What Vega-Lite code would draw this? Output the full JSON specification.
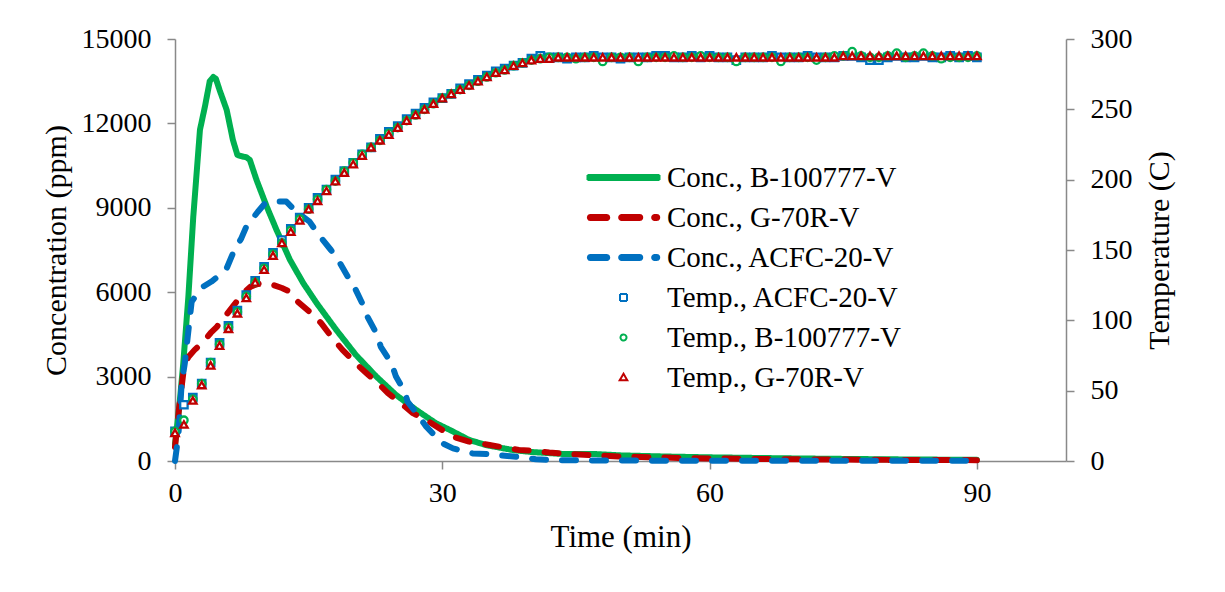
{
  "$schema": "https://vega.github.io/schema/vega-lite/v6.json",
  "width": 891,
  "height": 422,
  "autosize": {"type": "none"},
  "padding": {"left": 175, "top": 39, "right": 159, "bottom": 131},
  "background": "white",
  "config": {
    "view": {"stroke": null},
    "axis": {"labelFont": "Liberation Serif", "titleFont": "Liberation Serif", "labelFontSize": 28, "titleFontSize": 30, "labelColor": "#000000", "titleColor": "#000000", "titleFontWeight": "normal", "domainColor": "#898989", "tickColor": "#898989", "domainWidth": 1.5, "tickWidth": 1.5, "tickSize": 8, "grid": false, "labelFlush": false, "labelOverlap": false},
    "legend": {"labelFont": "Liberation Serif", "labelFontSize": 29, "labelColor": "#000000", "labelLimit": 500}
  },
  "datasets": {
    "conc": [
      {"series": "cB", "time": 0, "ppm": 600},
      {"series": "cB", "time": 0.5, "ppm": 2000},
      {"series": "cB", "time": 0.93, "ppm": 3480},
      {"series": "cB", "time": 1.5, "ppm": 5840},
      {"series": "cB", "time": 2.05, "ppm": 8680},
      {"series": "cB", "time": 2.8, "ppm": 11770},
      {"series": "cB", "time": 3.36, "ppm": 12600},
      {"series": "cB", "time": 3.9, "ppm": 13500},
      {"series": "cB", "time": 4.3, "ppm": 13650},
      {"series": "cB", "time": 4.6, "ppm": 13580},
      {"series": "cB", "time": 5.0, "ppm": 13190},
      {"series": "cB", "time": 5.8, "ppm": 12480},
      {"series": "cB", "time": 6.5, "ppm": 11410},
      {"series": "cB", "time": 7.0, "ppm": 10880},
      {"series": "cB", "time": 7.6, "ppm": 10820},
      {"series": "cB", "time": 8.0, "ppm": 10800},
      {"series": "cB", "time": 8.4, "ppm": 10700},
      {"series": "cB", "time": 9.15, "ppm": 9990},
      {"series": "cB", "time": 10.3, "ppm": 9040},
      {"series": "cB", "time": 11.4, "ppm": 8210},
      {"series": "cB", "time": 12.9, "ppm": 7150},
      {"series": "cB", "time": 14.4, "ppm": 6320},
      {"series": "cB", "time": 15.9, "ppm": 5610},
      {"series": "cB", "time": 18.1, "ppm": 4660},
      {"series": "cB", "time": 20.3, "ppm": 3770},
      {"series": "cB", "time": 22.6, "ppm": 3000},
      {"series": "cB", "time": 24.8, "ppm": 2350},
      {"series": "cB", "time": 27.1, "ppm": 1810},
      {"series": "cB", "time": 29.3, "ppm": 1340},
      {"series": "cB", "time": 31, "ppm": 1080},
      {"series": "cB", "time": 33, "ppm": 750},
      {"series": "cB", "time": 35, "ppm": 560},
      {"series": "cB", "time": 37.9, "ppm": 390},
      {"series": "cB", "time": 40, "ppm": 320},
      {"series": "cB", "time": 43.5, "ppm": 250},
      {"series": "cB", "time": 47, "ppm": 250},
      {"series": "cB", "time": 50, "ppm": 200},
      {"series": "cB", "time": 55, "ppm": 160},
      {"series": "cB", "time": 60, "ppm": 130},
      {"series": "cB", "time": 70, "ppm": 90},
      {"series": "cB", "time": 80, "ppm": 60},
      {"series": "cB", "time": 90, "ppm": 40},
      {"series": "cG", "time": 0, "ppm": 500},
      {"series": "cG", "time": 0.5, "ppm": 2000},
      {"series": "cG", "time": 1.0, "ppm": 3300},
      {"series": "cG", "time": 1.5, "ppm": 3700},
      {"series": "cG", "time": 2.2, "ppm": 3950},
      {"series": "cG", "time": 3.2, "ppm": 4240},
      {"series": "cG", "time": 4.0, "ppm": 4550},
      {"series": "cG", "time": 4.7, "ppm": 4770},
      {"series": "cG", "time": 5.6, "ppm": 5130},
      {"series": "cG", "time": 6.9, "ppm": 5660},
      {"series": "cG", "time": 7.65, "ppm": 5960},
      {"series": "cG", "time": 8.5, "ppm": 6200},
      {"series": "cG", "time": 9.5, "ppm": 6320},
      {"series": "cG", "time": 10.2, "ppm": 6300},
      {"series": "cG", "time": 11, "ppm": 6260},
      {"series": "cG", "time": 12, "ppm": 6150},
      {"series": "cG", "time": 12.9, "ppm": 6020},
      {"series": "cG", "time": 13.8, "ppm": 5660},
      {"series": "cG", "time": 15.5, "ppm": 5190},
      {"series": "cG", "time": 16.4, "ppm": 4900},
      {"series": "cG", "time": 17.7, "ppm": 4360},
      {"series": "cG", "time": 18.8, "ppm": 3950},
      {"series": "cG", "time": 20.7, "ppm": 3350},
      {"series": "cG", "time": 21.5, "ppm": 3120},
      {"series": "cG", "time": 22.8, "ppm": 2760},
      {"series": "cG", "time": 23.9, "ppm": 2410},
      {"series": "cG", "time": 25.6, "ppm": 1990},
      {"series": "cG", "time": 26.7, "ppm": 1700},
      {"series": "cG", "time": 28.2, "ppm": 1460},
      {"series": "cG", "time": 29.7, "ppm": 1160},
      {"series": "cG", "time": 31.2, "ppm": 860},
      {"series": "cG", "time": 33, "ppm": 690},
      {"series": "cG", "time": 35.3, "ppm": 570},
      {"series": "cG", "time": 36.4, "ppm": 510},
      {"series": "cG", "time": 38.6, "ppm": 390},
      {"series": "cG", "time": 40.1, "ppm": 370},
      {"series": "cG", "time": 42, "ppm": 300},
      {"series": "cG", "time": 44, "ppm": 250},
      {"series": "cG", "time": 47, "ppm": 200},
      {"series": "cG", "time": 50, "ppm": 160},
      {"series": "cG", "time": 55, "ppm": 120},
      {"series": "cG", "time": 60, "ppm": 90},
      {"series": "cG", "time": 70, "ppm": 60},
      {"series": "cG", "time": 80, "ppm": 40},
      {"series": "cG", "time": 90, "ppm": 30},
      {"series": "cA", "time": 0, "ppm": 0},
      {"series": "cA", "time": 0.37, "ppm": 870},
      {"series": "cA", "time": 0.75, "ppm": 2760},
      {"series": "cA", "time": 1.1, "ppm": 3470},
      {"series": "cA", "time": 1.68, "ppm": 5130},
      {"series": "cA", "time": 1.87, "ppm": 5660},
      {"series": "cA", "time": 2.5, "ppm": 5950},
      {"series": "cA", "time": 3.17, "ppm": 6200},
      {"series": "cA", "time": 4.1, "ppm": 6380},
      {"series": "cA", "time": 5.0, "ppm": 6600},
      {"series": "cA", "time": 5.8, "ppm": 6850},
      {"series": "cA", "time": 6.5, "ppm": 7380},
      {"series": "cA", "time": 7.45, "ppm": 7920},
      {"series": "cA", "time": 8.0, "ppm": 8330},
      {"series": "cA", "time": 9.3, "ppm": 8860},
      {"series": "cA", "time": 10.1, "ppm": 9160},
      {"series": "cA", "time": 11.3, "ppm": 9220},
      {"series": "cA", "time": 12.5, "ppm": 9220},
      {"series": "cA", "time": 13.6, "ppm": 8860},
      {"series": "cA", "time": 15.1, "ppm": 8510},
      {"series": "cA", "time": 16.0, "ppm": 8090},
      {"series": "cA", "time": 17.5, "ppm": 7500},
      {"series": "cA", "time": 18.3, "ppm": 7150},
      {"series": "cA", "time": 19.4, "ppm": 6550},
      {"series": "cA", "time": 20.2, "ppm": 6140},
      {"series": "cA", "time": 21.1, "ppm": 5550},
      {"series": "cA", "time": 21.6, "ppm": 5130},
      {"series": "cA", "time": 22.6, "ppm": 4540},
      {"series": "cA", "time": 23.1, "ppm": 4060},
      {"series": "cA", "time": 24.3, "ppm": 3470},
      {"series": "cA", "time": 24.8, "ppm": 3000},
      {"series": "cA", "time": 25.8, "ppm": 2460},
      {"series": "cA", "time": 26.1, "ppm": 2110},
      {"series": "cA", "time": 27.1, "ppm": 1700},
      {"series": "cA", "time": 28.2, "ppm": 1220},
      {"series": "cA", "time": 30.0, "ppm": 630},
      {"series": "cA", "time": 31.2, "ppm": 450},
      {"series": "cA", "time": 33.4, "ppm": 270},
      {"series": "cA", "time": 35, "ppm": 250},
      {"series": "cA", "time": 37, "ppm": 190},
      {"series": "cA", "time": 38.3, "ppm": 150},
      {"series": "cA", "time": 40.5, "ppm": 60},
      {"series": "cA", "time": 43, "ppm": 30},
      {"series": "cA", "time": 50, "ppm": 15},
      {"series": "cA", "time": 60, "ppm": 10},
      {"series": "cA", "time": 90, "ppm": 5}
    ],
    "temp": [
      {"time": 0, "tA": 21, "tB": 21, "tG": 20},
      {"time": 1, "tA": 40, "tB": 29, "tG": 26},
      {"time": 2, "tA": 45, "tB": 44, "tG": 43},
      {"time": 3, "tA": 55, "tB": 55, "tG": 54},
      {"time": 4, "tA": 70, "tB": 70, "tG": 68},
      {"time": 5, "tA": 84, "tB": 83, "tG": 82},
      {"time": 6, "tA": 96, "tB": 95, "tG": 94},
      {"time": 7, "tA": 107, "tB": 106, "tG": 105},
      {"time": 8, "tA": 118, "tB": 117, "tG": 116},
      {"time": 9, "tA": 128, "tB": 127, "tG": 127},
      {"time": 10, "tA": 138, "tB": 137, "tG": 136},
      {"time": 11, "tA": 148, "tB": 147, "tG": 146},
      {"time": 12, "tA": 157, "tB": 155, "tG": 155},
      {"time": 13, "tA": 165, "tB": 164, "tG": 163},
      {"time": 14, "tA": 173, "tB": 172, "tG": 171},
      {"time": 15, "tA": 180, "tB": 179, "tG": 179},
      {"time": 16, "tA": 187, "tB": 186, "tG": 185},
      {"time": 17, "tA": 193, "tB": 193, "tG": 192},
      {"time": 18, "tA": 200, "tB": 199, "tG": 199},
      {"time": 19, "tA": 206, "tB": 206, "tG": 205},
      {"time": 20, "tA": 212, "tB": 212, "tG": 211},
      {"time": 21, "tA": 218, "tB": 218, "tG": 217},
      {"time": 22, "tA": 223, "tB": 223, "tG": 223},
      {"time": 23, "tA": 229, "tB": 228, "tG": 228},
      {"time": 24, "tA": 234, "tB": 233, "tG": 232},
      {"time": 25, "tA": 238, "tB": 237, "tG": 237},
      {"time": 26, "tA": 243, "tB": 242, "tG": 242},
      {"time": 27, "tA": 247, "tB": 246, "tG": 246},
      {"time": 28, "tA": 251, "tB": 250, "tG": 250},
      {"time": 29, "tA": 255, "tB": 254, "tG": 254},
      {"time": 30, "tA": 258, "tB": 258, "tG": 258},
      {"time": 31, "tA": 261, "tB": 261, "tG": 261},
      {"time": 32, "tA": 265, "tB": 264, "tG": 264},
      {"time": 33, "tA": 268, "tB": 267, "tG": 267},
      {"time": 34, "tA": 271, "tB": 270, "tG": 270},
      {"time": 35, "tA": 274, "tB": 273, "tG": 273},
      {"time": 36, "tA": 277, "tB": 276, "tG": 276},
      {"time": 37, "tA": 279, "tB": 278, "tG": 278},
      {"time": 38, "tA": 281, "tB": 281, "tG": 281},
      {"time": 39, "tA": 283, "tB": 283, "tG": 283},
      {"time": 40, "tA": 286, "tB": 285, "tG": 285},
      {"time": 41, "tA": 288, "tB": 286, "tG": 286},
      {"time": 42, "tA": 287, "tB": 287, "tG": 286},
      {"time": 43, "tA": 287, "tB": 287, "tG": 287},
      {"time": 44, "tA": 286, "tB": 287, "tG": 287},
      {"time": 45, "tA": 287, "tB": 286, "tG": 287},
      {"time": 46, "tA": 287, "tB": 287, "tG": 287},
      {"time": 47, "tA": 288, "tB": 287, "tG": 287},
      {"time": 48, "tA": 287, "tB": 284, "tG": 287},
      {"time": 49, "tA": 287, "tB": 287, "tG": 287},
      {"time": 50, "tA": 286, "tB": 287, "tG": 287},
      {"time": 51, "tA": 287, "tB": 287, "tG": 287},
      {"time": 52, "tA": 287, "tB": 284, "tG": 287},
      {"time": 53, "tA": 287, "tB": 287, "tG": 287},
      {"time": 54, "tA": 288, "tB": 287, "tG": 287},
      {"time": 55, "tA": 288, "tB": 287, "tG": 287},
      {"time": 56, "tA": 287, "tB": 288, "tG": 287},
      {"time": 57, "tA": 287, "tB": 287, "tG": 287},
      {"time": 58, "tA": 288, "tB": 287, "tG": 287},
      {"time": 59, "tA": 287, "tB": 288, "tG": 287},
      {"time": 60, "tA": 288, "tB": 287, "tG": 287},
      {"time": 61, "tA": 287, "tB": 287, "tG": 287},
      {"time": 62, "tA": 287, "tB": 287, "tG": 287},
      {"time": 63, "tA": 285, "tB": 284, "tG": 287},
      {"time": 64, "tA": 287, "tB": 287, "tG": 287},
      {"time": 65, "tA": 287, "tB": 287, "tG": 287},
      {"time": 66, "tA": 287, "tB": 287, "tG": 287},
      {"time": 67, "tA": 288, "tB": 287, "tG": 287},
      {"time": 68, "tA": 287, "tB": 284, "tG": 287},
      {"time": 69, "tA": 287, "tB": 287, "tG": 287},
      {"time": 70, "tA": 287, "tB": 287, "tG": 287},
      {"time": 71, "tA": 288, "tB": 287, "tG": 287},
      {"time": 72, "tA": 287, "tB": 285, "tG": 287},
      {"time": 73, "tA": 287, "tB": 287, "tG": 287},
      {"time": 74, "tA": 287, "tB": 288, "tG": 287},
      {"time": 75, "tA": 288, "tB": 288, "tG": 288},
      {"time": 76, "tA": 288, "tB": 291, "tG": 288},
      {"time": 77, "tA": 287, "tB": 288, "tG": 288},
      {"time": 78, "tA": 285, "tB": 287, "tG": 288},
      {"time": 79, "tA": 285, "tB": 287, "tG": 288},
      {"time": 80, "tA": 287, "tB": 288, "tG": 288},
      {"time": 81, "tA": 288, "tB": 290, "tG": 288},
      {"time": 82, "tA": 287, "tB": 287, "tG": 288},
      {"time": 83, "tA": 287, "tB": 288, "tG": 288},
      {"time": 84, "tA": 288, "tB": 290, "tG": 288},
      {"time": 85, "tA": 287, "tB": 288, "tG": 288},
      {"time": 86, "tA": 287, "tB": 286, "tG": 288},
      {"time": 87, "tA": 288, "tB": 287, "tG": 288},
      {"time": 88, "tA": 287, "tB": 287, "tG": 288},
      {"time": 89, "tA": 288, "tB": 287, "tG": 288},
      {"time": 90, "tA": 287, "tB": 288, "tG": 288}
    ]
  },
  "layer": [
    {
      "data": {"name": "conc"},
      "mark": {"type": "line", "strokeWidth": 6, "strokeCap": "round", "strokeJoin": "round", "opacity": 1},
      "encoding": {
        "x": {"field": "time", "type": "quantitative", "scale": {"domain": [0, 100], "nice": false}, "axis": {"title": "Time (min)", "titleFontSize": 31, "values": [0, 30, 60, 90], "labelPadding": 10, "titlePadding": 15}},
        "y": {"field": "ppm", "type": "quantitative", "scale": {"domain": [0, 15000], "nice": false}, "axis": {"title": "Concentration (ppm)", "orient": "left", "values": [0, 3000, 6000, 9000, 12000, 15000], "format": "d", "labelPadding": 16, "titlePadding": 10}},
        "color": {
          "field": "series", "type": "nominal",
          "scale": {"domain": ["cB", "cG", "cA", "tA", "tB", "tG"], "range": ["#00B050", "#C00000", "#0070C0", "#0070C0", "#00B050", "#C00000"]},
          "legend": {
            "title": null, "orient": "none", "legendX": 434, "legendY": 124, "padding": 0,
            "symbolSize": 400, "symbolStrokeWidth": 2, "symbolOpacity": 1, "labelOffset": 29, "rowPadding": 10,
            "labelExpr": "datum.value==='cB' ? 'Conc., B-100777-V' : datum.value==='cG' ? 'Conc., G-70R-V' : datum.value==='cA' ? 'Conc., ACFC-20-V' : datum.value==='tA' ? 'Temp., ACFC-20-V' : datum.value==='tB' ? 'Temp., B-100777-V' : 'Temp., G-70R-V'",
            "encode": {"symbols": {"update": {
              "shape": {"signal": "datum.value==='cB' ? 'M-3.6,-0.25H3.6V0.25H-3.6Z' : (datum.value==='cG' || datum.value==='cA') ? 'M-3.31,-0.25H-1.68A0.25,0.25,0,0,1,-1.68,0.25H-3.31A0.25,0.25,0,0,1,-3.31,-0.25ZM-0.18,-0.25H1.62A0.25,0.25,0,0,1,1.62,0.25H-0.18A0.25,0.25,0,0,1,-0.18,-0.25ZM3.12,-0.25H3.32A0.25,0.25,0,0,1,3.32,0.25H3.12A0.25,0.25,0,0,1,3.12,-0.25Z' : datum.value==='tA' ? 'M-0.35,-0.35H0.35V0.35H-0.35Z' : datum.value==='tB' ? 'M-0.3,0A0.3,0.3,0,1,0,0.3,0A0.3,0.3,0,1,0,-0.3,0Z' : 'M0,-0.38L0.38,0.28L-0.38,0.28Z'"},
              "fill": {"signal": "datum.value[0]==='c' ? scale('color', datum.value) : 'white'"},
              "stroke": {"signal": "scale('color', datum.value)"},
              "opacity": {"value": 1},
              "strokeDash": {"value": [1, 0]}
            }}}
          }
        },
        "strokeDash": {"field": "series", "type": "nominal", "scale": {"domain": ["cB", "cG", "cA"], "range": [[1, 0], [14, 16], [14, 16]]}, "legend": null}
      }
    },
    {
      "data": {"name": "temp"},
      "transform": [{"fold": ["tA", "tB", "tG"], "as": ["series", "temp"]}],
      "mark": {"type": "point", "filled": false, "fill": "white", "strokeWidth": 2.3, "size": 55, "opacity": 1},
      "encoding": {
        "x": {"field": "time", "type": "quantitative"},
        "y": {"field": "temp", "type": "quantitative", "scale": {"domain": [0, 300], "nice": false}, "axis": {"title": "Temperature (C)", "orient": "right", "values": [0, 50, 100, 150, 200, 250, 300], "labelPadding": 16, "titleAngle": 270, "titleBaseline": "top", "titlePadding": 12}},
        "color": {
          "field": "series", "type": "nominal",
          "legend": {
            "title": null, "orient": "none", "legendX": 434, "legendY": 124, "padding": 0,
            "symbolSize": 400, "symbolStrokeWidth": 2, "symbolOpacity": 1, "labelOffset": 29, "rowPadding": 10,
            "labelExpr": "datum.value==='cB' ? 'Conc., B-100777-V' : datum.value==='cG' ? 'Conc., G-70R-V' : datum.value==='cA' ? 'Conc., ACFC-20-V' : datum.value==='tA' ? 'Temp., ACFC-20-V' : datum.value==='tB' ? 'Temp., B-100777-V' : 'Temp., G-70R-V'",
            "encode": {"symbols": {"update": {
              "shape": {"signal": "datum.value==='cB' ? 'M-3.6,-0.25H3.6V0.25H-3.6Z' : (datum.value==='cG' || datum.value==='cA') ? 'M-3.31,-0.25H-1.68A0.25,0.25,0,0,1,-1.68,0.25H-3.31A0.25,0.25,0,0,1,-3.31,-0.25ZM-0.18,-0.25H1.62A0.25,0.25,0,0,1,1.62,0.25H-0.18A0.25,0.25,0,0,1,-0.18,-0.25ZM3.12,-0.25H3.32A0.25,0.25,0,0,1,3.32,0.25H3.12A0.25,0.25,0,0,1,3.12,-0.25Z' : datum.value==='tA' ? 'M-0.35,-0.35H0.35V0.35H-0.35Z' : datum.value==='tB' ? 'M-0.3,0A0.3,0.3,0,1,0,0.3,0A0.3,0.3,0,1,0,-0.3,0Z' : 'M0,-0.38L0.38,0.28L-0.38,0.28Z'"},
              "fill": {"signal": "datum.value[0]==='c' ? scale('color', datum.value) : 'white'"},
              "stroke": {"signal": "scale('color', datum.value)"},
              "opacity": {"value": 1},
              "strokeDash": {"value": [1, 0]}
            }}}
          }
        },
        "shape": {"field": "series", "type": "nominal", "scale": {"domain": ["tA", "tB", "tG"], "range": ["square", "circle", "triangle-up"]}, "legend": null}
      }
    }
  ],
  "resolve": {"scale": {"y": "independent"}, "axis": {"y": "independent"}}
}
